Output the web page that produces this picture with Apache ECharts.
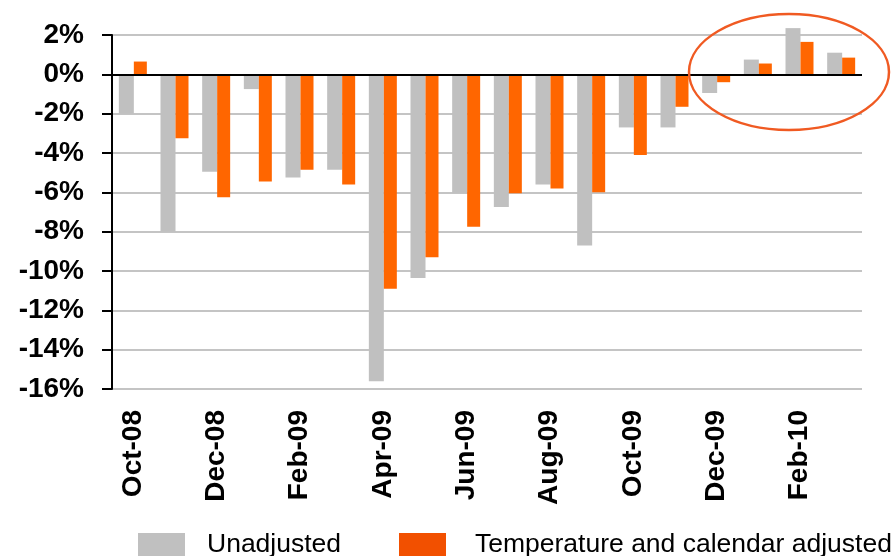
<!DOCTYPE html>
<html>
<head>
<meta charset="utf-8">
<script src="https://cdn.jsdelivr.net/npm/echarts@6/dist/echarts.min.js"></script>
<style>
    html, body { margin: 0; padding: 0; background: #fff; }
    #mychart { width: 895px; height: 556px; }
</style>
</head>
<body>
<div id="mychart"></div>
<script>
// monthly change, percent
const months = ['Oct-08', 'Nov-08', 'Dec-08', 'Jan-09', 'Feb-09', 'Mar-09', 'Apr-09', 'May-09', 'Jun-09',
    'Jul-09', 'Aug-09', 'Sep-09', 'Oct-09', 'Nov-09', 'Dec-09', 'Jan-10', 'Feb-10', 'Mar-10'];
const unadjusted = [-2.0, -8.0, -4.95, -0.75, -5.25, -4.85, -15.6, -10.35, -6.05,
    -6.75, -5.6, -8.7, -2.7, -2.7, -0.95, 0.75, 2.35, 1.1];
const adjusted = [0.65, -3.25, -6.25, -5.45, -4.85, -5.6, -10.9, -9.3, -7.75,
    -6.05, -5.8, -6.0, -4.1, -1.65, -0.4, 0.55, 1.65, 0.85];
const yTicks = { min: -16, max: 2, step: 2 };

const font = 'Liberation Sans, Arial, sans-serif';

function legendBox(left, name, color, gap) {
    return {
        left: left,
        top: 531,
        padding: 0,
        itemWidth: 47,
        itemHeight: 23,
        icon: 'rect',
        textStyle: {
            color: '#000',
            fontFamily: font,
            fontSize: 26.5,
            padding: [4, 0, 0, gap]
        },
        data: [{ name: name, itemStyle: { color: color } }]
    };
}

let option = {
    animation: false,
    grid: {
        left: 112,
        right: 33,
        top: 35,
        bottom: 167
    },
    legend: [
        legendBox(138, 'Unadjusted', '#c0c0c0', 17),
        legendBox(399, 'Temperature and calendar adjusted', '#f25000', 24)
    ],
    xAxis: {
        type: 'category',
        data: months,
        position: 'bottom',
        axisLine: { show: false, onZero: false },
        axisTick: { show: false },
        axisLabel: {
            interval: 1,
            rotate: 90,
            margin: 21,
            color: '#000',
            fontFamily: font,
            fontSize: 28,
            fontWeight: 'bold'
        }
    },
    yAxis: {
        type: 'value',
        min: yTicks.min,
        max: yTicks.max,
        interval: yTicks.step,
        axisLine: {
            show: true,
            lineStyle: { color: '#000', width: 2 }
        },
        axisTick: {
            show: true,
            length: 10,
            lineStyle: { color: '#000', width: 2 }
        },
        axisLabel: {
            margin: 28,
            formatter: '{value}%',
            color: '#000',
            fontFamily: font,
            fontSize: 28,
            fontWeight: 'bold'
        },
        splitLine: {
            lineStyle: { color: '#c4c4c4', width: 2 }
        }
    },
    series: [{
        name: 'Unadjusted',
        type: 'bar',
        data: unadjusted,
        clip: false,
        barWidth: 15,
        barGap: '0%',
        itemStyle: { color: '#c0c0c0' }
    }, {
        name: 'Temperature and calendar adjusted',
        type: 'bar',
        data: adjusted,
        clip: false,
        barWidth: 13,
        barGap: '0%',
        itemStyle: { color: '#ff6600' },
        markLine: {
            silent: true,
            symbol: 'none',
            label: { show: false },
            lineStyle: { color: '#000', width: 2, type: 'solid' },
            data: [{ yAxis: 0 }],
            z: 10
        }
    }],
    graphic: [{
        type: 'ellipse',
        shape: { cx: 789, cy: 72, rx: 100, ry: 58 },
        style: { fill: 'none', stroke: '#f05a22', lineWidth: 2.5 },
        z: 100
    }]
};

let myChart = echarts.init(document.getElementById('mychart'));
myChart.setOption(option);
</script>
</body>
</html>
